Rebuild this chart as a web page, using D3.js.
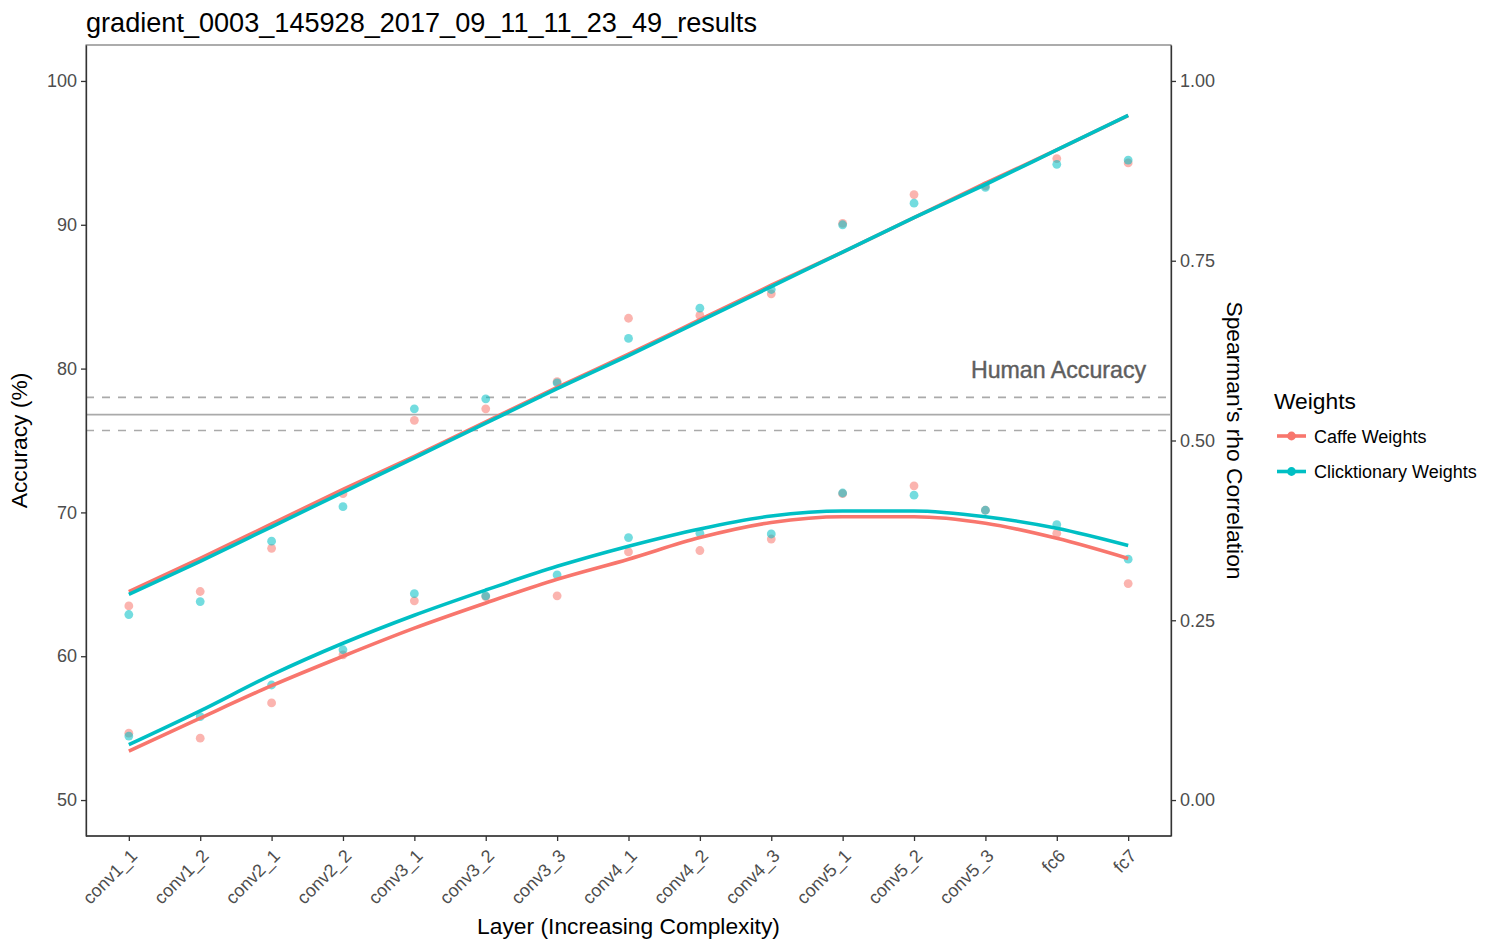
<!DOCTYPE html>
<html>
<head>
<meta charset="utf-8">
<script src="https://cdn.jsdelivr.net/npm/d3@7"></script>
<style>
  body { margin: 0; background: #fff; }
  text { font-family: "Liberation Sans", Arial, Helvetica, sans-serif; }
</style>
</head>
<body>
<div id="chart"></div>
<script>
"use strict";

// layers on the x axis
var layers = ["conv1_1", "conv1_2", "conv2_1", "conv2_2", "conv3_1", "conv3_2", "conv3_3",
  "conv4_1", "conv4_2", "conv4_3", "conv5_1", "conv5_2", "conv5_3", "fc6", "fc7"];

// accuracy (%) points
var caffeAcc = [63.5, 64.5, 67.5, 71.3, 76.4, 77.2, 79.1, 83.5, 83.7, 85.2, 90.1, 92.1, 92.7, 94.6, 94.3];
var clickAcc = [62.9, 63.8, 68.0, 70.4, 77.2, 77.9, 79.0, 82.1, 84.2, 85.5, 90.0, 91.5, 92.6, 94.2, 94.5];

// spearman rho points
var caffeRho = [0.093, 0.086, 0.135, 0.202, 0.277, 0.283, 0.284, 0.345, 0.347, 0.363, 0.426, 0.437, 0.403, 0.371, 0.301];
var clickRho = [0.089, 0.116, 0.160, 0.209, 0.287, 0.284, 0.313, 0.365, 0.371, 0.370, 0.427, 0.424, 0.403, 0.383, 0.335];

// smoothed fits
var caffeAccFit = [64.5, 66.8, 69.2, 71.6, 73.9, 76.3, 78.7, 81.0, 83.4, 85.8, 88.1, 90.5, 92.9, 95.2, 97.6];
var clickAccFit = [64.3, 66.6, 69.0, 71.4, 73.8, 76.2, 78.6, 80.9, 83.3, 85.7, 88.1, 90.5, 92.8, 95.2, 97.6];
var caffeRhoFit = [0.068, 0.114, 0.159, 0.200, 0.239, 0.274, 0.307, 0.335, 0.365, 0.386, 0.394, 0.394, 0.385, 0.364, 0.336];
var clickRhoFit = [0.077, 0.124, 0.174, 0.218, 0.257, 0.292, 0.325, 0.353, 0.377, 0.395, 0.402, 0.402, 0.394, 0.378, 0.354];

// human accuracy with its band
var humanAcc = [75.7, 76.8, 78.0];

var accTicks = [50, 60, 70, 80, 90, 100];
var rhoTicks = [0, 0.25, 0.5, 0.75, 1];

var series = ["Caffe Weights", "Clicktionary Weights"];
var colors = ["#F8766D", "#00BFC4"];

var width = 1500, height = 950;
var margin = {top: 45, right: 329, bottom: 114, left: 86};
var panelW = width - margin.left - margin.right;
var panelH = height - margin.top - margin.bottom;

var svg = d3.select("#chart").append("svg")
  .attr("width", width)
  .attr("height", height);

var x = d3.scalePoint().domain(layers).range([0, panelW]).padding(0.6);
var yAcc = d3.scaleLinear().domain([47.5, 102.5]).range([panelH, 0]);
var yRho = d3.scaleLinear().domain([-0.05, 1.05]).range([panelH, 0]);

var g = svg.append("g").attr("transform", "translate(" + margin.left + "," + margin.top + ")");

// title
svg.append("text")
  .attr("x", margin.left)
  .attr("y", 32)
  .attr("font-size", 27.1)
  .attr("fill", "#000")
  .text("gradient_0003_145928_2017_09_11_11_23_49_results");

// panel border
g.append("rect")
  .attr("width", panelW)
  .attr("height", panelH)
  .attr("fill", "none")
  .attr("stroke", "#5a5a5a")
  .attr("stroke-width", 1);

// human accuracy lines
humanAcc.forEach(function(v, i) {
  g.append("line")
    .attr("x1", 0).attr("x2", panelW)
    .attr("y1", yAcc(v)).attr("y2", yAcc(v))
    .attr("stroke", "#aaaaaa")
    .attr("stroke-width", 1.6)
    .attr("stroke-dasharray", i === 1 ? null : "8,8");
});
g.append("text")
  .attr("x", x("fc7") + 18)
  .attr("y", yAcc(humanAcc[2]) - 19.5)
  .attr("text-anchor", "end")
  .attr("font-size", 23.2)
  .attr("fill", "#5e5e5e")
  .attr("stroke", "#5e5e5e")
  .attr("stroke-width", 0.4)
  .text("Human Accuracy");

// points
var pointSets = [
  {values: caffeAcc, scale: yAcc, color: 0},
  {values: clickAcc, scale: yAcc, color: 1},
  {values: caffeRho, scale: yRho, color: 0},
  {values: clickRho, scale: yRho, color: 1}
];
pointSets.forEach(function(set) {
  g.append("g").selectAll("circle")
    .data(set.values)
    .enter()
    .append("circle")
      .attr("cx", function(d, i) { return x(layers[i]); })
      .attr("cy", function(d) { return set.scale(d); })
      .attr("r", 4.4)
      .attr("fill", colors[set.color])
      .attr("fill-opacity", 0.55);
});

// fitted lines
var lineSets = [
  {values: caffeRhoFit, scale: yRho, color: 0},
  {values: clickRhoFit, scale: yRho, color: 1},
  {values: caffeAccFit, scale: yAcc, color: 0},
  {values: clickAccFit, scale: yAcc, color: 1}
];
lineSets.forEach(function(set) {
  var line = d3.line()
    .x(function(d, i) { return x(layers[i]); })
    .y(function(d) { return set.scale(d); })
    .curve(d3.curveMonotoneX);
  g.append("path")
    .datum(set.values)
    .attr("d", line)
    .attr("fill", "none")
    .attr("stroke", colors[set.color])
    .attr("stroke-width", 3.6);
});

// axes
function styleAxis(sel) {
  sel.select(".domain").attr("stroke", "#333").attr("stroke-width", 1.3);
  sel.selectAll(".tick line").attr("stroke", "#333").attr("stroke-width", 1.3);
  sel.selectAll(".tick text").attr("fill", "#4d4d4d").attr("font-size", 18)
    .attr("font-family", "Liberation Sans, Arial, sans-serif");
}

var leftAxis = g.append("g")
  .call(d3.axisLeft(yAcc).tickValues(accTicks).tickSize(5).tickPadding(4).tickSizeOuter(0));
styleAxis(leftAxis);

var rightAxis = g.append("g")
  .attr("transform", "translate(" + panelW + ",0)")
  .call(d3.axisRight(yRho).tickValues(rhoTicks).tickSize(5).tickPadding(4).tickSizeOuter(0)
    .tickFormat(d3.format(".2f")));
styleAxis(rightAxis);

var bottomAxis = g.append("g")
  .attr("transform", "translate(0," + panelH + ")")
  .call(d3.axisBottom(x).tickSize(5).tickSizeOuter(0));
styleAxis(bottomAxis);
bottomAxis.select(".domain").attr("d", "M0,0H" + panelW);
bottomAxis.selectAll(".tick text")
  .attr("text-anchor", "end")
  .attr("dy", null)
  .attr("y", null)
  .attr("transform", "translate(9,21) rotate(-45)");

// axis titles
svg.append("text")
  .attr("x", margin.left + panelW / 2)
  .attr("y", 934)
  .attr("text-anchor", "middle")
  .attr("font-size", 22.8)
  .text("Layer (Increasing Complexity)");

svg.append("text")
  .attr("transform", "translate(27," + (margin.top + panelH / 2) + ") rotate(-90)")
  .attr("text-anchor", "middle")
  .attr("font-size", 22.8)
  .text("Accuracy (%)");

svg.append("text")
  .attr("transform", "translate(1227," + (margin.top + panelH / 2) + ") rotate(90)")
  .attr("text-anchor", "middle")
  .attr("font-size", 22.8)
  .text("Spearman's rho Correlation");

// legend
var legend = svg.append("g").attr("transform", "translate(1274,0)");
legend.append("text")
  .attr("x", 0)
  .attr("y", 409)
  .attr("font-size", 22.8)
  .text("Weights");

series.forEach(function(name, i) {
  var yy = 436 + i * 35.5;
  legend.append("line")
    .attr("x1", 3).attr("x2", 32)
    .attr("y1", yy).attr("y2", yy)
    .attr("stroke", colors[i])
    .attr("stroke-width", 3.6);
  legend.append("circle")
    .attr("cx", 17.5).attr("cy", yy)
    .attr("r", 4.4)
    .attr("fill", colors[i]);
  legend.append("text")
    .attr("x", 40)
    .attr("y", yy + 6.5)
    .attr("font-size", 18)
    .text(name);
});
</script>
</body>
</html>
